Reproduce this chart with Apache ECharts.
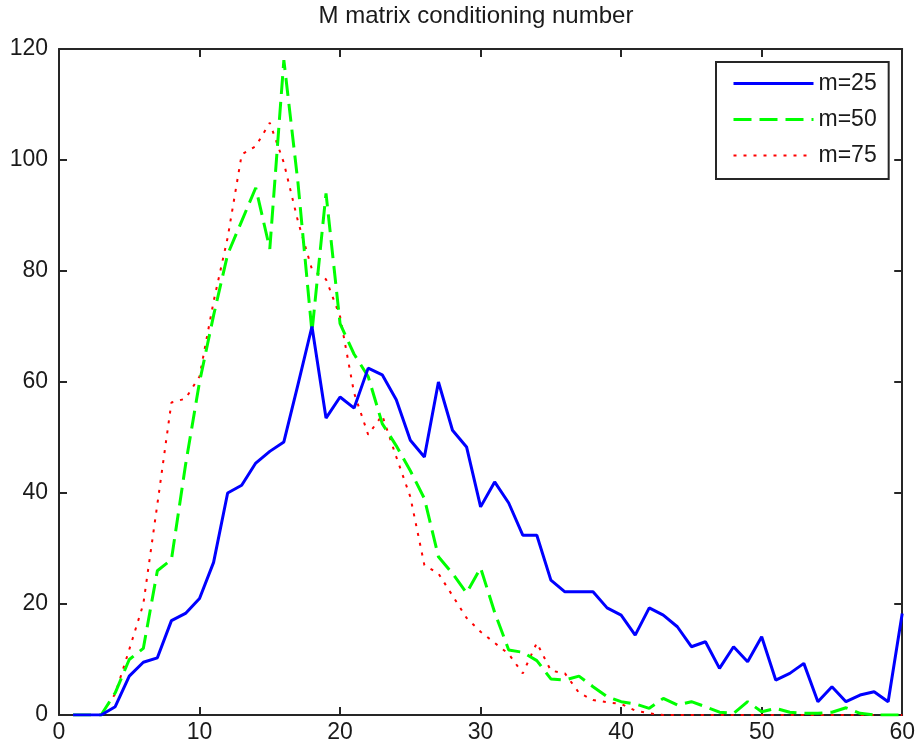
<!DOCTYPE html>
<html>
<head>
<meta charset="utf-8">
<script src="https://cdn.jsdelivr.net/npm/echarts@6/dist/echarts.min.js"></script>
<style>
html,body{margin:0;padding:0;background:#fff;}
#chart{width:918px;height:747px;}
</style>
</head>
<body>
<div id="chart"></div>
<script>
var xValues = [1,2,3,4,5,6,7,8,9,10,11,12,13,14,15,16,17,18,19,20,21,22,23,24,25,26,27,28,29,30,31,32,33,34,35,36,37,38,39,40,41,42,43,44,45,46,47,48,49,50,51,52,53,54,55,56,57,58,59,60];

var m25 = [0,0,0,1.5,7,9.5,10.3,17,18.3,21,
           27.5,40,41.4,45.4,47.5,49.2,59.5,70,53.5,57.3,
           55.3,62.5,61.3,56.8,49.5,46.5,60,51.3,48.3,37.5,
           42,38.2,32.4,32.4,24.3,22.2,22.2,22.2,19.3,18,
           14.4,19.3,18,15.9,12.3,13.2,8.4,12.3,9.6,14.1,
           6.3,7.5,9.3,2.4,5.1,2.4,3.6,4.2,2.4,18.3];

var m50 = [0,0,0,4,10,12,26,28,45,60,
           72,83,89,95,84,118,96,69,94,70.5,
           65,61,52.5,48.5,44,39,28.5,25.5,22,26.5,
           18.5,11.7,11.3,9.8,6.5,6.3,7,5.1,3.3,2.4,
           2,1.2,3,1.8,2.4,1.5,0.5,0.3,2.4,0.6,
           1.2,0.5,0.3,0.3,0.5,1.3,0.3,0,0,0];

var m75 = [0,0,0,3.8,11.8,20,38,56.3,57,61,
           74.5,86,101,102.5,106.7,99.5,89,80.3,78.5,71.8,
           58,50.5,54,46.5,39.3,27,25.5,21.5,17.5,15,
           13,11,7.5,13,8,7.5,4,2.7,2.3,2,
           0.8,0.3,0,0,0,0,0,0,0,0,
           0,0,0,0,0,0,0,0,0,0];

var xTicks = [0,10,20,30,40,50,60];
var yTicks = [0,20,40,60,80,100,120];

function pairs(ys){ return xValues.map(function(x,i){ return [x, ys[i]]; }); }

var FONT = "'Liberation Sans', Arial, sans-serif";
var AX = '#262626';

function axisBase(extra){
  var o = {
    type: 'value',
    axisLine: {show: true, onZero: false, lineStyle: {color: AX, width: 2}},
    axisTick: {show: true, inside: true, length: 8, lineStyle: {color: AX, width: 2}},
    splitLine: {show: false},
    axisLabel: {show: true, color: '#1a1a1a', fontSize: 23, fontFamily: FONT}
  };
  for (var k in extra) o[k] = extra[k];
  return o;
}

var chart = echarts.init(document.getElementById('chart'), null, {renderer: 'canvas'});
chart.setOption({
  animation: false,
  backgroundColor: '#fff',
  title: {
    text: 'M matrix conditioning number',
    left: 476, top: 4, textAlign: 'center', padding: 0,
    textStyle: {fontSize: 24, fontWeight: 'normal', color: '#1a1a1a', fontFamily: FONT}
  },
  grid: {left: 59, right: 13, top: 49, bottom: 32, containLabel: false},
  xAxis: [
    axisBase({position: 'bottom', min: 0, max: 60, interval: 10,
      axisLabel: {show: true, margin: 6, color: '#1a1a1a', fontSize: 23, fontFamily: FONT,
        formatter: function(v){ return xTicks.indexOf(v) >= 0 ? String(v) : ''; }}}),
    axisBase({position: 'top', min: 0, max: 60, interval: 10, axisLabel: {show: false}})
  ],
  yAxis: [
    axisBase({position: 'left', min: 0, max: 120, interval: 20,
      axisLabel: {show: true, margin: 11, color: '#1a1a1a', fontSize: 23, fontFamily: FONT,
        formatter: function(v){ return yTicks.indexOf(v) >= 0 ? String(v) : ''; }}}),
    axisBase({position: 'right', min: 0, max: 120, interval: 20, axisLabel: {show: false}})
  ],
  legend: {
    orient: 'vertical',
    left: 716, top: 62,
    backgroundColor: '#fff',
    borderColor: AX, borderWidth: 2, borderRadius: 0,
    padding: [10, 12, 12, 16],
    itemWidth: 80, itemHeight: 14, itemGap: 13,
    itemStyle: {opacity: 0},
    textStyle: {fontSize: 23, color: '#1a1a1a', fontFamily: FONT},
    data: [
      {name: 'm=25', lineStyle: {width: 3}},
      {name: 'm=50', lineStyle: {width: 3}},
      {name: 'm=75', lineStyle: {width: 2}}
    ]
  },
  series: [
    {name: 'm=25', type: 'line', data: pairs(m25), symbol: 'none', xAxisIndex: 0, yAxisIndex: 0,
     lineStyle: {color: '#0000ff', width: 3, type: 'solid'}, itemStyle: {color: '#0000ff'}, z: 3},
    {name: 'm=50', type: 'line', data: pairs(m50), symbol: 'none', xAxisIndex: 0, yAxisIndex: 0,
     lineStyle: {color: '#00ff00', width: 3, type: [18, 8]}, itemStyle: {color: '#00ff00'}, z: 2},
    {name: 'm=75', type: 'line', data: pairs(m75), symbol: 'none', xAxisIndex: 0, yAxisIndex: 0,
     lineStyle: {color: '#ff0000', width: 2, type: [3, 7]}, itemStyle: {color: '#ff0000'}, z: 1}
  ]
});
</script>
</body>
</html>
